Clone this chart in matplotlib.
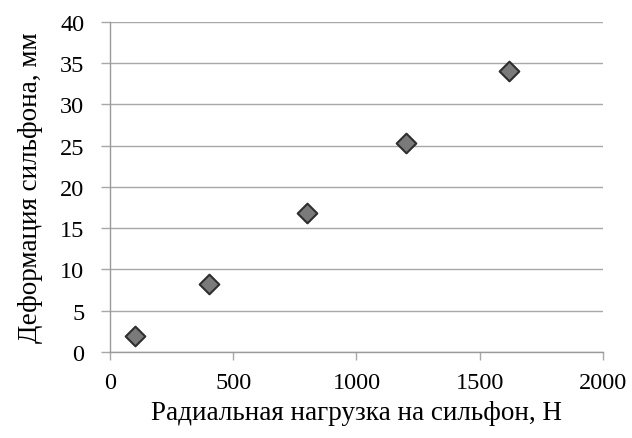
import matplotlib
matplotlib.use('Agg')
import matplotlib.pyplot as plt

# радиальная нагрузка, Н и деформация, мм
load = [100, 400, 800, 1200, 1620]
deform = [1.95, 8.25, 16.85, 25.3, 34.1]

x_ticks = [0, 500, 1000, 1500, 2000]
y_ticks = [0, 5, 10, 15, 20, 25, 30, 35, 40]

plt.rcParams['font.family'] = ['Liberation Serif', 'DejaVu Serif']

fig = plt.figure(figsize=(6.32, 4.39), dpi=100)
ax = fig.add_axes([0.174, 0.196, 0.780, 0.752])

ax.scatter(load, deform, marker='D', s=100, facecolor='#7a7a7a',
           edgecolor='#2e2e2e', linewidth=1.5, zorder=3)

ax.set_xlim(0, 2000)
ax.set_ylim(0, 40)
ax.set_xticks(x_ticks)
ax.set_yticks(y_ticks)

ax.yaxis.grid(True, color='#a8a8a8', linewidth=1.0)
ax.set_axisbelow(True)

for s in ['top', 'right']:
    ax.spines[s].set_visible(False)
for s in ['left', 'bottom']:
    ax.spines[s].set_color('#9a9a9a')
    ax.spines[s].set_linewidth(1.0)

ax.tick_params(axis='y', length=6.5, width=1.0, color='#a8a8a8', labelsize=17.5, pad=12)
ax.tick_params(axis='x', length=5.5, width=1.0, color='#a8a8a8', labelsize=17.5, pad=9)

ax.set_xlabel('Радиальная нагрузка на сильфон, Н', fontsize=19.5, labelpad=5)
ax.set_ylabel('Деформация сильфона, мм', fontsize=19.5, labelpad=12)

plt.savefig('out.png', dpi=100)
